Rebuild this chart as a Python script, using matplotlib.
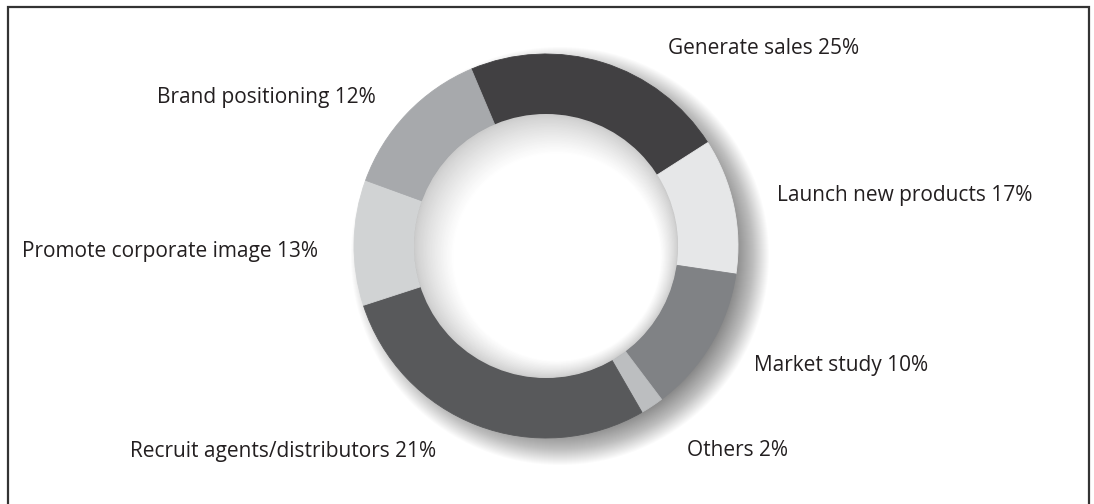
import matplotlib
matplotlib.use("Agg")
import matplotlib.pyplot as plt
from matplotlib.patches import Circle

# ---- data ----
categories = ["Generate sales", "Launch new products", "Market study", "Others",
              "Recruit agents/distributors", "Promote corporate image", "Brand positioning"]
percent_labels = [25, 17, 10, 2, 21, 13, 12]
# arc sizes as drawn in the reference (degrees)
arc_degrees = [80.3, 41.0, 44.6, 7.0, 102.0, 38.0, 47.1]
colors = ["#414042", "#e6e7e8", "#808285", "#bcbec0", "#58595b", "#d1d3d4", "#a7a9ac"]

# ---- layout (pixel positions) ----
W, H = 1094, 504
label_pos = [(668, 48), (777, 196), (754, 365), (687, 451), (130, 451), (22, 251), (157, 97)]

plt.rcParams['font.family'] = ['Open Sans', 'DejaVu Sans']

fig = plt.figure(figsize=(W / 100, H / 100), dpi=100)
fig.patch.set_facecolor('white')
ax = fig.add_axes([0, 0, 1, 1])

cx, cy = 546, H - 246
R_out, R_in = 192, 132

# outer soft shadow (offset to lower right)
n = 34
for i in range(n):
    r = R_out + 17 - 34 * i / n
    ax.add_patch(Circle((cx + 14, cy - 10), r, color='black', alpha=0.0175, lw=0, zorder=1))

wedges, _ = ax.pie(arc_degrees, colors=colors, startangle=90 + 22.9, counterclock=False,
                   radius=R_out, center=(cx, cy),
                   wedgeprops=dict(width=R_out - R_in, linewidth=0.6))
for w in wedges:
    w.set_edgecolor(w.get_facecolor())
    w.set_zorder(2)

# inner shadow in the hole
m = 32
for i in range(m + 1):
    t = i / m
    r = R_in - t * (R_in - 104)
    g = 0.80 + 0.20 * (t ** 0.8)
    ax.add_patch(Circle((cx + 11 * t, cy - 11 * t), r, color=(g, g, g), lw=0, zorder=3))

for name, pct, (x, y) in zip(categories, percent_labels, label_pos):
    ax.text(x, H - y, f"{name} {pct}%", ha='left', va='center', fontsize=15,
            color='#231f20', zorder=4)

# frame (open at bottom)
ax.plot([7.5, 7.5, 1089, 1089], [-5, H - 7, H - 7, -5], color='#333333', lw=1.6,
        clip_on=False, zorder=5, solid_joinstyle='miter')

ax.set_xlim(0, W)
ax.set_ylim(0, H)
ax.set_aspect('equal')
ax.axis('off')

fig.savefig('out.png', dpi=100, facecolor='white')
